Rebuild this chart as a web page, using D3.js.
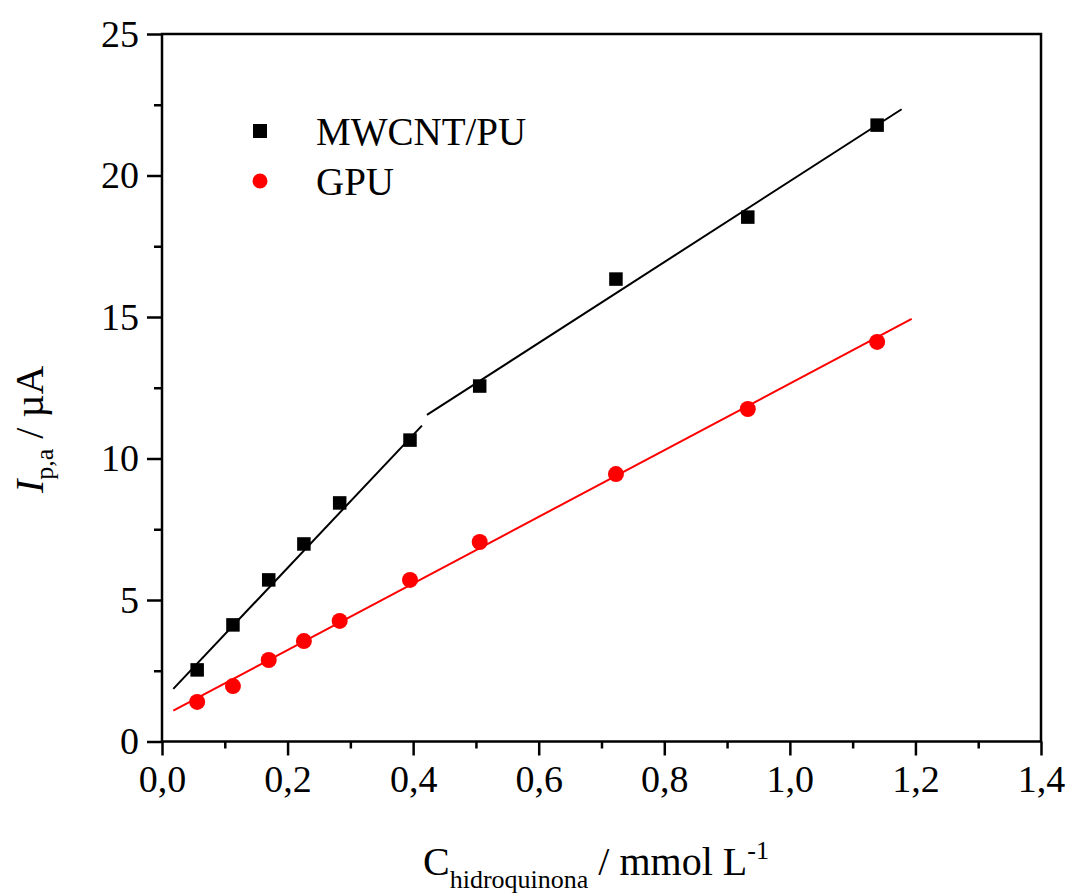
<!DOCTYPE html>
<html>
<head>
<meta charset="utf-8">
<script src="https://cdn.jsdelivr.net/npm/d3@7"></script>
<style>
  html, body { margin: 0; padding: 0; background: #fff; }
  svg { display: block; }
  text { font-family: "Liberation Serif", "Times New Roman", serif; fill: #000; }
</style>
</head>
<body>
<svg id="chart" width="1071" height="896"></svg>
<script>
// Hydroquinone concentration (mmol L-1)
const concentration = [0.056, 0.113, 0.170, 0.226, 0.283, 0.395, 0.506, 0.723, 0.933, 1.139];
// Anodic peak current (µA) for each electrode
const mwcntPU = [2.53, 4.12, 5.71, 6.98, 8.43, 10.65, 12.56, 16.34, 18.53, 21.78];
const gpu     = [1.40, 1.96, 2.88, 3.55, 4.26, 5.71, 7.05, 9.45, 11.75, 14.12];

// Linear-fit segments, as [x, y] end points
const mwcntFitLow  = [[0.018, 1.86], [0.414, 11.16]];
const mwcntFitHigh = [[0.422, 11.54], [1.178, 22.34]];
const gpuFit       = [[0.018, 1.09], [1.194, 14.93]];

// Axis ticks
const xMajorTicks = [0, 0.2, 0.4, 0.6, 0.8, 1.0, 1.2, 1.4];
const xMinorTicks = [0.1, 0.3, 0.5, 0.7, 0.9, 1.1, 1.3];
const yMajorTicks = [0, 5, 10, 15, 20, 25];
const yMinorTicks = [2.5, 7.5, 12.5, 17.5, 22.5];

const seriesNames = ["MWCNT/PU", "GPU"];
const seriesColors = ["#000000", "#ff0000"];

const svg = d3.select("#chart");
const plot = { left: 162, right: 1041, top: 34, bottom: 741.5 };

const x = d3.scaleLinear().domain([0, 1.4]).range([plot.left, plot.right]);
const y = d3.scaleLinear().domain([0, 25]).range([plot.bottom, plot.top]);

const fmt = d => d3.format(".1f")(d).replace(".", ",");

// Plot frame
svg.append("rect")
  .attr("x", plot.left).attr("y", plot.top)
  .attr("width", plot.right - plot.left).attr("height", plot.bottom - plot.top)
  .attr("fill", "none").attr("stroke", "#000").attr("stroke-width", 2.5);

// X axis
svg.append("g").attr("transform", `translate(0,${plot.bottom})`)
  .call(d3.axisBottom(x).tickValues(xMajorTicks).tickFormat(fmt).tickSize(14).tickPadding(10));
svg.append("g").attr("transform", `translate(0,${plot.bottom})`)
  .call(d3.axisBottom(x).tickValues(xMinorTicks).tickFormat("").tickSize(7));

// Y axis
svg.append("g").attr("transform", `translate(${plot.left},0)`)
  .call(d3.axisLeft(y).tickValues(yMajorTicks).tickFormat(d3.format("d")).tickSize(15).tickPadding(8));
svg.append("g").attr("transform", `translate(${plot.left},0)`)
  .call(d3.axisLeft(y).tickValues(yMinorTicks).tickFormat("").tickSize(8));

svg.selectAll(".domain").remove();
svg.selectAll(".tick line").attr("stroke", "#000").attr("stroke-width", 2.5);
svg.selectAll(".tick text").style("font-size", "38px")
  .style("font-family", "'Liberation Serif', 'Times New Roman', serif").attr("fill", "#000");

// Fit lines
const line = d3.line().x(d => x(d[0])).y(d => y(d[1]));
[[mwcntFitLow, seriesColors[0]], [mwcntFitHigh, seriesColors[0]], [gpuFit, seriesColors[1]]]
  .forEach(([pts, c]) => {
    svg.append("path").attr("d", line(pts))
      .attr("fill", "none").attr("stroke", c).attr("stroke-width", 2);
  });

// Data markers
const sq = 13.5;
svg.append("g").selectAll("rect")
  .data(concentration.map((c, i) => [c, mwcntPU[i]]))
  .join("rect")
  .attr("x", d => x(d[0]) - sq / 2).attr("y", d => y(d[1]) - sq / 2)
  .attr("width", sq).attr("height", sq).attr("fill", seriesColors[0]);

svg.append("g").selectAll("circle")
  .data(concentration.map((c, i) => [c, gpu[i]]))
  .join("circle")
  .attr("cx", d => x(d[0])).attr("cy", d => y(d[1]))
  .attr("r", 8).attr("fill", seriesColors[1]);

// Legend
const legend = svg.append("g");
legend.append("rect").attr("x", 253).attr("y", 124).attr("width", 14).attr("height", 14)
  .attr("fill", seriesColors[0]);
legend.append("circle").attr("cx", 260).attr("cy", 181).attr("r", 7.5).attr("fill", seriesColors[1]);
legend.append("text").attr("x", 316).attr("y", 145).style("font-size", "39px").text(seriesNames[0]);
legend.append("text").attr("x", 316).attr("y", 195).style("font-size", "39px").text(seriesNames[1]);

// X axis title
const xt = svg.append("text").attr("x", 423).attr("y", 875).style("font-size", "40px");
xt.append("tspan").text("C");
xt.append("tspan").attr("dy", 13).style("font-size", "26px").text("hidroquinona");
xt.append("tspan").attr("dy", -13).text(" / mmol L");
xt.append("tspan").attr("dy", -16).style("font-size", "26px").text("-1");

// Y axis title
const yt = svg.append("text")
  .attr("transform", "translate(43,493) rotate(-90)")
  .style("font-size", "40px");
yt.append("tspan").style("font-style", "italic").text("I");
yt.append("tspan").attr("dy", 10).style("font-size", "26px").text("p,a");
yt.append("tspan").attr("dy", -10).text(" / µA");
</script>
</body>
</html>
